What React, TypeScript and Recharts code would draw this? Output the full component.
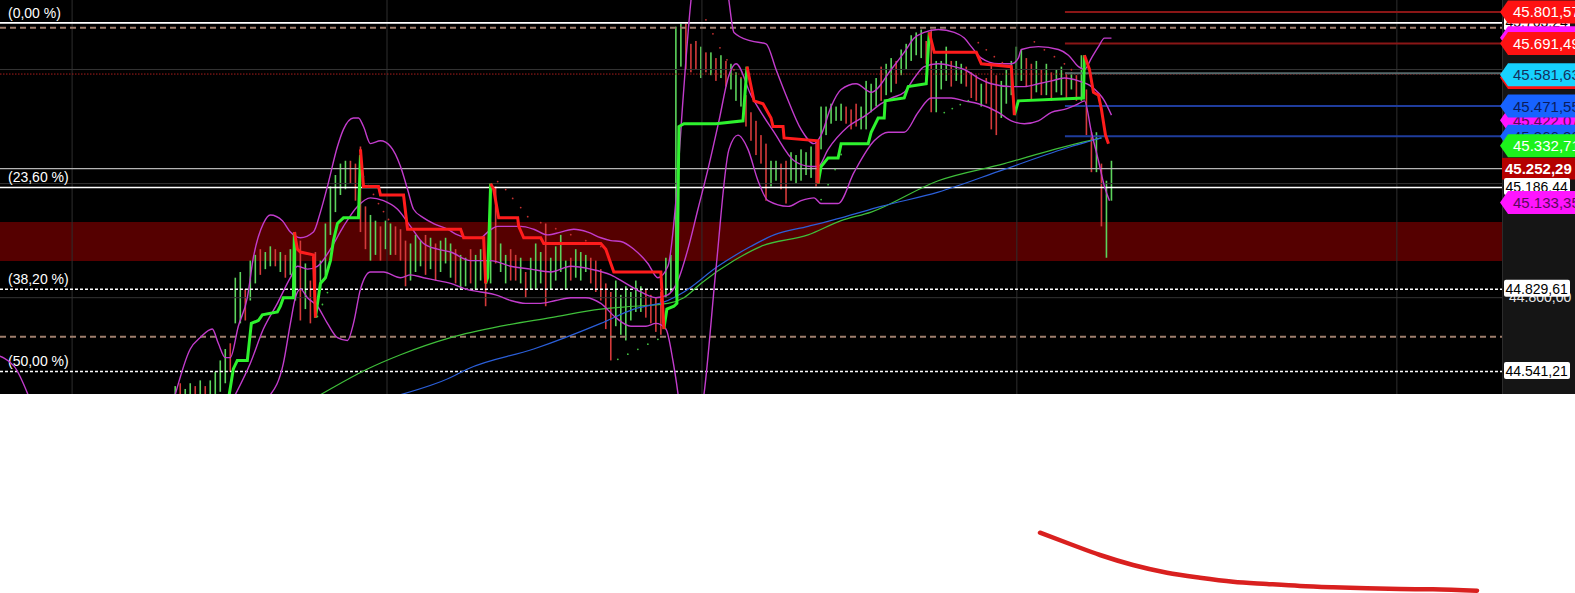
import React from 'react';
import { ComposedChart, LineChart, Line, Bar, XAxis, YAxis, ReferenceLine, ReferenceArea } from 'recharts';

// ---------- candles (bar index 35 .. 222) ----------
const FIRST_BAR = 35;
const candleHigh = [
  44.49, 44.50, 44.48, 44.50, 44.49, 44.51, 44.49, 44.51, 44.54, 44.58, 44.62, 44.64,
  44.87, 44.89, 44.83, 44.93, 44.95, 44.97, 44.96, 44.98, 44.97, 44.96, 44.95, 44.97,
  45.03, 45.00, 44.92, 44.86, 44.96, 44.93, 45.06, 45.19, 45.23, 45.27, 45.28, 45.28,
  45.27, 45.33, 45.12, 45.09, 45.07, 45.05, 45.07, 45.06, 45.05, 45.04, 45.00, 44.99,
  45.02, 45.00, 45.02, 45.01, 44.99, 45.00, 45.01, 44.99, 44.97, 44.95, 44.94, 44.97,
  44.95, 44.97, 44.93, 45.20, 45.19, 44.99, 44.95, 44.97, 44.95, 44.94, 44.89, 44.94,
  44.99, 44.96, 45.06, 44.94, 44.98, 45.02, 44.93, 44.94, 44.97, 44.96, 44.95, 44.94,
  44.93, 44.90, 44.85, 44.82, 44.86, 44.81, 44.84, 44.82, 44.86, 44.84, 44.83, 44.81,
  44.80, 44.82, 44.94, 44.95, 45.75, 45.76, 45.76, 45.69, 45.70, 45.68, 45.66, 45.66,
  45.64, 45.65, 45.63, 45.62, 45.59, 45.57, 45.51, 45.45, 45.42, 45.37, 45.34, 45.28,
  45.28, 45.27, 45.28, 45.31, 45.30, 45.32, 45.31, 45.33, 45.35, 45.47, 45.47, 45.48,
  45.47, 45.48, 45.47, 45.46, 45.48, 45.47, 45.56, 45.55, 45.57, 45.61, 45.62, 45.64,
  45.63, 45.67, 45.69, 45.72, 45.73, 45.74, 45.70, 45.74, 45.63, 45.63, 45.68, 45.63,
  45.63, 45.62, 45.61, 45.59, 45.58, 45.55, 45.57, 45.62, 45.58, 45.56, 45.60, 45.63,
  45.68, 45.67, 45.64, 45.62, 45.63, 45.60, 45.62, 45.59, 45.60, 45.61, 45.59, 45.59,
  45.58, 45.65, 45.53, 45.38, 45.38, 45.27, 45.21, 45.28,
];
const candleLow = [
  44.44, 44.44, 44.44, 44.44, 44.44, 44.44, 44.44, 44.44, 44.46, 44.47, 44.50, 44.54,
  44.71, 44.71, 44.72, 44.79, 44.85, 44.88, 44.90, 44.91, 44.91, 44.89, 44.87, 44.88,
  44.79, 44.72, 44.76, 44.71, 44.73, 44.83, 44.88, 45.02, 45.10, 45.16, 45.18, 45.20,
  45.14, 45.03, 44.97, 44.93, 44.95, 44.93, 44.97, 44.95, 44.95, 44.93, 44.84, 44.86,
  44.89, 44.91, 44.88, 44.90, 44.86, 44.89, 44.92, 44.87, 44.85, 44.83, 44.84, 44.85,
  44.83, 44.86, 44.77, 44.85, 44.92, 44.89, 44.85, 44.86, 44.86, 44.85, 44.80, 44.83,
  44.83, 44.85, 44.77, 44.83, 44.86, 44.89, 44.83, 44.86, 44.87, 44.86, 44.89, 44.85,
  44.82, 44.79, 44.69, 44.58, 44.70, 44.67, 44.65, 44.72, 44.75, 44.75, 44.73, 44.71,
  44.68, 44.67, 44.80, 44.82, 44.80, 45.61, 45.60, 45.59, 45.60, 45.57, 45.59, 45.58,
  45.56, 45.57, 45.54, 45.53, 45.49, 45.47, 45.40, 45.35, 45.30, 45.27, 45.14, 45.19,
  45.21, 45.18, 45.13, 45.21, 45.20, 45.21, 45.23, 45.22, 45.19, 45.32, 45.37, 45.41,
  45.42, 45.42, 45.41, 45.39, 45.40, 45.39, 45.39, 45.45, 45.47, 45.49, 45.51, 45.52,
  45.55, 45.58, 45.60, 45.63, 45.65, 45.64, 45.62, 45.45, 45.45, 45.53, 45.56, 45.54,
  45.56, 45.55, 45.54, 45.50, 45.49, 45.47, 45.48, 45.39, 45.37, 45.43, 45.48, 45.51,
  45.54, 45.56, 45.54, 45.49, 45.52, 45.51, 45.51, 45.49, 45.52, 45.51, 45.50, 45.53,
  45.49, 45.49, 45.37, 45.24, 45.24, 45.05, 44.94, 45.14,
];
const candleDir =
  'grggrgrggggr' + 'ggrggrggrgrg' + 'grgrrggggggr' + 'rrrggrggrrrg' +
  'ggrgrgggrggr' + 'ggrgrggrrgrg' + 'ggrggggrgggr' + 'rrrrggggggrr' +
  'rrggggrrrgrg' + 'rgrgggrrrrrg' + 'grrgggggrggg' + 'ggrrrggggrgg' +
  'rgggggrrgggr' + 'ggrrrgrrrggg' + 'ggrrgrgrggrg' + 'rgrrgrgg';

// ---------- trend (stepped) lines: [barIndex, price] ----------
const greenTrend: [number, number | null][] = [
  [45.6, 44.44], [46.6, 44.55], [47.4, 44.58], [49.4, 44.58], [50.2, 44.71], [51.6, 44.72], [52.4, 44.74],
  [55.4, 44.75], [56, 44.77], [56.6, 44.80], [58.6, 44.80], [58.8, 45.03], [60, null],
  [63, 44.73], [64, 44.85], [65, 44.87], [66, 44.93], [66.6, 45.00], [67.4, 45.06], [68.6, 45.08],
  [71.6, 45.08], [72, 45.30], [80, null],
  [97, 44.85], [97.4, 44.87], [98, 45.20], [110, null],
  [132.6, 44.69], [133.2, 44.76], [134.6, 44.77], [135.2, 44.78], [135.6, 45.40], [136.6, 45.41],
  [143, 45.41], [148.4, 45.42], [149.2, 45.61], [155, null],
  [163.4, 45.20], [164, 45.26], [165.4, 45.29], [167.4, 45.29], [168, 45.34], [173.4, 45.34], [174, 45.38],
  [175.4, 45.43], [176.6, 45.43], [176.8, 45.49], [180.6, 45.50], [181.4, 45.54], [185, 45.55], [185.6, 45.73],
  [190, null],
  [202.6, 45.44], [203.4, 45.49], [216.4, 45.50], [216.6, 45.65],
];
const redTrend: [number, number | null][] = [
  [58.8, 45.03], [59.4, 44.97], [60, 44.96], [62.6, 44.95], [63, 44.73], [66, null],
  [72, 45.32], [72.6, 45.19], [75.6, 45.19], [76, 45.16], [80.6, 45.16], [81.4, 45.04], [92, 45.04],
  [92.6, 45.01], [96.6, 45.01], [97, 44.85], [97.5, null],
  [98, 45.20], [98.6, 45.18], [99.6, 45.08], [103.4, 45.08], [103.6, 45.05], [104.6, 45.01], [108, 45.01],
  [108.6, 44.99], [120, 44.99], [121, 44.97], [122, 44.92], [122.6, 44.89], [132, 44.89], [132.6, 44.69],
  [140, null],
  [149.2, 45.61], [150.6, 45.49], [152.4, 45.48], [154, 45.43], [154.4, 45.40], [156.4, 45.40], [156.6, 45.36],
  [163.4, 45.35], [163.4, 45.20], [170, null],
  [185.6, 45.73], [186.6, 45.66], [195, 45.66], [196, 45.62], [202, 45.61], [202.6, 45.44], [210, null],
  [216.6, 45.65], [217.6, 45.60], [218.4, 45.52], [219.4, 45.51], [220, 45.46], [220.8, 45.37], [221.4, 45.34],
];

// ---------- parabolic SAR dots ----------
const sarRed: [number, number][] = [
  [72.6, 45.224], [73.6, 45.193], [74.6, 45.162], [75.6, 45.130], [76.6, 45.102], [77.6, 45.074],
  [99.4, 45.207], [101, 45.179], [102.4, 45.148], [104, 45.116], [105.4, 45.084], [108, 45.063],
  [111, 45.042], [114, 45.021], [117, 45.000], [120, 44.979],
  [141, 45.774], [142.4, 45.725], [143.8, 45.676], [145.2, 45.634], [146.6, 45.599], [148, 45.571],
  [195.4, 45.694], [197, 45.669], [198.6, 45.645], [200.2, 45.624],
  [206.6, 45.697], [208.6, 45.669], [210.6, 45.645], [212.6, 45.620], [214, 45.599],
];
const sarGreen: [number, number][] = [
  [63.4, 44.734], [64.4, 44.776], [65.4, 44.818],
  [123.4, 44.584], [125.4, 44.602], [127.4, 44.619], [129.4, 44.637], [131.4, 44.654],
  [164, 45.144], [165.4, 45.196], [166.8, 45.249], [168, 45.302],
  [188.6, 45.449], [190.2, 45.463], [191.8, 45.477], [193.4, 45.491],
];

// ---------- Bollinger bands ----------
const bandUpper: [number, number | null][] = [
  [-1, 44.60], [2.8, 44.56], [5.6, 44.46], [20, null],
  [35, 44.46], [38, 44.62], [40, 44.66], [42.4, 44.69], [43.6, 44.64], [45, 44.59], [46, 44.59], [47.6, 44.70],
  [49.4, 44.80], [50.6, 44.94], [52.6, 45.06], [54, 45.09], [56.4, 45.07], [58, 45.03], [60, 45.01],
  [62.6, 45.03], [64, 45.10], [65.4, 45.19], [67.4, 45.33], [68.6, 45.39], [70.6, 45.43], [71.6, 45.43],
  [72.6, 45.40], [74, 45.34], [76, 45.35], [78, 45.33], [80, 45.26], [81.4, 45.18], [82.6, 45.11],
  [84.6, 45.08], [86.6, 45.06], [89.4, 45.04], [91.4, 45.02], [93.4, 45.01], [96, 45.01], [97.4, 45.03],
  [99.4, 45.05], [102, 45.05], [104, 45.05], [106.6, 45.04], [109.4, 45.02], [112, 45.03], [114.6, 45.04],
  [117.4, 45.03], [120, 45.01], [122, 45.00], [124, 44.997], [126.6, 44.97], [129.4, 44.92], [131.4, 44.87],
  [133.4, 44.91], [135, 45.14], [136.4, 45.49], [138, 45.84], [140, 46.05], [142.8, 46.12], [144.4, 46.02],
  [145.6, 45.84], [146.6, 45.73], [150, 45.70], [153, 45.69], [155, 45.60], [157, 45.51], [160, 45.39],
  [162.6, 45.34], [164, 45.37], [166, 45.47], [168, 45.53], [171, 45.55], [174, 45.52], [178, 45.60],
  [180.6, 45.66], [182.6, 45.71], [184.6, 45.73], [187.4, 45.74], [190.6, 45.73], [192.6, 45.71], [194, 45.68],
  [196, 45.64], [199.4, 45.62], [202, 45.62], [203.4, 45.64], [204, 45.67], [207.4, 45.68], [211.4, 45.67],
  [213.4, 45.65], [215.4, 45.61], [216.6, 45.60], [218, 45.64], [219.4, 45.68], [220.6, 45.71], [222, 45.71],
];
const bandMiddle: [number, number][] = [
  [47, 44.46], [50, 44.57], [52.6, 44.69], [55.4, 44.78], [58, 44.87], [59.4, 44.91], [61.4, 44.90],
  [63.4, 44.91], [66, 44.97], [68.6, 45.05], [71.4, 45.12], [74, 45.15], [76.6, 45.14], [79.4, 45.11],
  [82, 45.05], [84.6, 44.99], [87.4, 44.97], [90, 44.96], [94, 44.93], [98, 44.93], [102, 44.91],
  [106, 44.90], [110, 44.89], [114, 44.91], [118, 44.90], [122, 44.88], [125, 44.85], [128, 44.82],
  [131, 44.80], [133.4, 44.81], [135.4, 44.86], [137.4, 44.97], [139.4, 45.11], [141.4, 45.25],
  [143.6, 45.42], [145.6, 45.58], [147, 45.62], [150, 45.51], [154.6, 45.38], [158.6, 45.28], [162, 45.26],
  [163.4, 45.26], [165.4, 45.32], [169.4, 45.40], [173, 45.44], [176, 45.48], [178, 45.50], [180.6, 45.52],
  [182.6, 45.57], [184.6, 45.61], [187.4, 45.62], [190.6, 45.61], [192.6, 45.60], [195.4, 45.57],
  [198, 45.55], [202, 45.54], [204.6, 45.54], [207.4, 45.55], [210, 45.56], [212.6, 45.57], [215.4, 45.56],
  [218, 45.54], [220.6, 45.49], [222, 45.44],
];
const bandLower: [number, number][] = [
  [54, 44.46], [56.6, 44.57], [58, 44.71], [59, 44.80], [60, 44.83], [61.4, 44.80], [63.4, 44.77],
  [65.4, 44.71], [67.4, 44.66], [69.4, 44.65], [70.6, 44.71], [72, 44.83], [74, 44.89], [76.6, 44.89],
  [80, 44.87], [82, 44.88], [84.6, 44.87], [87.4, 44.86], [90, 44.85], [93, 44.83], [96, 44.82],
  [99, 44.81], [102, 44.79], [105, 44.78], [108, 44.78], [111, 44.79], [114, 44.80], [117, 44.80],
  [120, 44.78], [123, 44.73], [126, 44.70], [129, 44.70], [131, 44.71], [133, 44.69], [134.4, 44.58],
  [135.6, 44.44], [137, 44.23], [139, 44.30], [140.6, 44.46], [143, 44.90], [145.6, 45.32], [147.4, 45.37],
  [149.4, 45.32], [151.4, 45.21], [153.4, 45.14], [157.4, 45.12], [160, 45.14], [162.6, 45.15], [164, 45.13],
  [167.4, 45.13], [170.6, 45.24], [174.6, 45.35], [177.4, 45.38], [180.6, 45.38], [183.4, 45.45], [186, 45.50],
  [190, 45.50], [192.6, 45.49], [195.4, 45.48], [199.4, 45.45], [202, 45.42], [204.6, 45.41], [207.4, 45.42],
  [210, 45.45], [212.6, 45.46], [215.4, 45.48], [216.6, 45.49], [218, 45.38], [219.4, 45.28], [220.6, 45.19],
  [221.6, 45.14],
];

// ---------- moving averages ----------
const maGreen: [number, number][] = [
  [64, 44.46], [66, 44.48], [73.4, 44.55], [80, 44.60], [90, 44.66], [100, 44.70], [110, 44.73], [120, 44.76],
  [126.6, 44.77], [133.4, 44.78], [136.6, 44.80], [140, 44.85], [146.6, 44.93], [152, 44.98], [161.4, 45.02],
  [168, 45.07], [174, 45.10], [187.4, 45.21], [200.6, 45.27], [210.6, 45.32], [217.4, 45.35], [220, 45.36],
];
const maBlue: [number, number][] = [
  [80, 44.46], [90, 44.52], [93.4, 44.55], [106.6, 44.62], [120, 44.71], [126.6, 44.76], [133.4, 44.79],
  [136.6, 44.82], [143.4, 44.91], [150, 44.98], [154.6, 45.02], [161.4, 45.05], [168, 45.08], [176, 45.12],
  [187.4, 45.17], [200.6, 45.25], [214, 45.33], [218, 45.35], [220, 45.36],
];

// ---------- levels ----------
const fibLevels = [45.76324, 45.18644, 44.82961, 44.54121];
const fibNames = ['(0,00 %)', '(23,60 %)', '(38,20 %)', '(50,00 %)'];
const fibDotted = [false, false, true, true];
const gridPrices = [45.6, 45.2];
const axisTickPrice = 44.8;
const timeGrid = [14.4, 77.3, 140.2, 203.1, 279];
const tanDashed = [45.746, 44.663];
const redDotted = 45.584;
const lastPriceLine = 45.25229;
const redZone = [44.929, 45.065];
const rightSegStart = 212.7;
const rightSegPrices = [45.80157, 45.69149, 45.587, 45.47155, 45.366];
const rightSegColors = ['#8a1616', '#8a1616', '#56696b', '#1f3c9c', '#1f3c9c'];

const tagPrices = [45.76324, 45.711, 45.80157, 45.69149, 45.572, 45.58163, 45.42207, 45.47155, 45.366, 45.33271, 45.25229, 45.18644, 45.13335, 44.8, 44.82961, 44.54121];
const tagTexts = ['45.763,24', '45.711,10', '45.801,57', '45.691,49', '45.572,40', '45.581,63', '45.422,07', '45.471,55', '45.366,20', '45.332,71', '45.252,29', '45.186,44', '45.133,35', '44.800,00', '44.829,61', '44.541,21'];
const tagKinds = ['box', 'arrow', 'arrow', 'arrow', 'arrow', 'arrow', 'arrow', 'arrow', 'arrow', 'arrow', 'solid', 'box', 'arrow', 'plain', 'box', 'box'];
const tagBgs = ['#ffffff', '#ff14ff', '#ff1212', '#ff1212', '#ff1212', '#16d2ff', '#ff14ff', '#1763ff', '#1763ff', '#1cf21c', '#b40000', '#ffffff', '#ff14ff', 'none', '#ffffff', '#ffffff'];
const tagFgs = ['#000000', '#5a0a5a', '#ffffff', '#ffffff', '#ffffff', '#15305e', '#5a0a5a', '#0b1d5e', '#0b1d5e', '#ffffff', '#ffffff', '#000000', '#5a0a5a', '#e8e8e8', '#000000', '#000000'];

// ---------- hand-drawn annotation stroke below the chart ----------
const strokeX = [1040, 1070, 1100, 1133, 1167, 1200, 1233, 1267, 1300, 1333, 1367, 1400, 1433, 1477];
const strokeDepth = [138.7, 150, 161, 171, 178.7, 183.7, 187.7, 190, 192, 193.3, 194.3, 195, 195.3, 196.7];

const Y_MIN = 44.4623;
const Y_MAX = 45.8436;
const X_MAX = 300;
const FONT = '"Liberation Sans", Arial, sans-serif';

const toPts = (arr: [number, number | null][]) => arr.map(([i, p]) => ({ i, p }));

const candles = candleHigh.map((h, k) => ({
  i: FIRST_BAR + k,
  range: [candleLow[k], h],
  up: candleDir[k] === 'g',
}));

function Candle(props: any) {
  const { x, y, width, height, payload } = props;
  if (x == null || y == null) return null;
  const cx = x + width / 2;
  const top = Math.min(y, y + height);
  const h = Math.max(Math.abs(height), 1);
  return <rect x={cx - 0.8} y={top} width={1.6} height={h} fill={payload.up ? '#5cd35c' : '#d43a3a'} />;
}

function FibLabel(props: any) {
  const { viewBox, txt } = props;
  if (!viewBox) return null;
  return (
    <text x={viewBox.x + 8} y={viewBox.y - 5.4} fill="#ffffff" fontSize={14} fontFamily={FONT}>
      {txt}
    </text>
  );
}

function PriceTag(props: any) {
  const { viewBox, txt, kind, bg, fg } = props;
  if (!viewBox) return null;
  const x = viewBox.x + viewBox.width;
  const y = viewBox.y;
  if (kind === 'arrow') {
    const pts = `${x - 2},${y} ${x + 6},${y - 11.5} ${x + 80},${y - 11.5} ${x + 80},${y + 11.5} ${x + 6},${y + 11.5}`;
    return (
      <g>
        <polygon points={pts} fill={bg} />
        <text x={x + 11} y={y + 5.5} fill={fg} fontSize={15} fontFamily={FONT}>{txt}</text>
      </g>
    );
  }
  if (kind === 'solid') {
    return (
      <g>
        <rect x={x} y={y - 10.8} width={80} height={21.6} fill={bg} />
        <text x={x + 3} y={y + 5.5} fill={fg} fontSize={15} fontWeight="bold" fontFamily={FONT}>{txt}</text>
      </g>
    );
  }
  if (kind === 'box') {
    return (
      <g>
        <rect x={x + 2} y={y - 9.5} width={66} height={17} rx={2} fill={bg} />
        <text x={x + 3.5} y={y + 4.5} fill={fg} fontSize={14} fontFamily={FONT}>{txt}</text>
      </g>
    );
  }
  return (
    <text x={x + 7} y={y + 4} fill={fg} fontSize={14} fontFamily={FONT}>{txt}</text>
  );
}

export default function App() {
  const strokeData = strokeX.map((x, k) => ({ x, d: strokeDepth[k] }));
  return (
    <div style={{ position: 'absolute', left: 0, top: 0, width: 1575, height: 593, background: '#ffffff', overflow: 'hidden' }}>
      <div style={{ position: 'absolute', left: 0, top: 0, width: 1575, height: 394, background: '#000000' }} />
      <div style={{ position: 'absolute', left: 1502, top: 0, width: 73, height: 394, background: '#151515', borderLeft: '1px solid #2c2c2c', boxSizing: 'border-box' }} />
      <div style={{ position: 'absolute', left: 0, top: 0 }}>
        <ComposedChart width={1575} height={394} data={candles} margin={{ top: 0, right: 73, bottom: 0, left: 0 }}>
          <XAxis type="number" dataKey="i" domain={[0, X_MAX]} hide allowDataOverflow />
          <YAxis type="number" domain={[Y_MIN, Y_MAX]} hide allowDataOverflow />

          <ReferenceArea y1={redZone[0]} y2={redZone[1]} fill="#550000" fillOpacity={1} stroke="none" ifOverflow="visible" />

          {timeGrid.map((t) => (
            <ReferenceLine key={'t' + t} x={t} stroke="#2e2e2e" strokeWidth={1} />
          ))}
          {gridPrices.map((p) => (
            <ReferenceLine key={'g' + p} y={p} stroke="#343434" strokeWidth={1} />
          ))}
          <ReferenceLine y={axisTickPrice} stroke="#343434" strokeWidth={1} />
          {tanDashed.map((p) => (
            <ReferenceLine key={'d' + p} y={p} stroke="#9e7e6c" strokeWidth={2} strokeDasharray="6 4" />
          ))}
          <ReferenceLine y={redDotted} stroke="#a81c1c" strokeWidth={1} strokeDasharray="1.5 1.5" />
          <ReferenceLine y={lastPriceLine} stroke="#b4b4b4" strokeWidth={1.2} />
          {rightSegPrices.map((p, k) => (
            <ReferenceLine
              key={'s' + p}
              segment={[{ x: rightSegStart, y: p }, { x: X_MAX, y: p }]}
              stroke={rightSegColors[k]}
              strokeWidth={2}
            />
          ))}
          {fibLevels.map((p, k) => (
            <ReferenceLine
              key={'f' + p}
              y={p}
              stroke="#ffffff"
              strokeWidth={1.6}
              strokeDasharray={fibDotted[k] ? '3 2' : undefined}
              label={<FibLabel txt={fibNames[k]} />}
            />
          ))}

          <Line data={toPts(maGreen)} dataKey="p" type="monotone" stroke="#3fbf3a" strokeWidth={1.2} dot={false} isAnimationActive={false} />
          <Line data={toPts(maBlue)} dataKey="p" type="monotone" stroke="#2b5fd9" strokeWidth={1.2} dot={false} isAnimationActive={false} />

          <Bar dataKey="range" barSize={2} shape={<Candle />} isAnimationActive={false} />

          <Line data={toPts(sarRed)} dataKey="p" stroke="none" dot={{ r: 0.9, fill: '#c83030', stroke: 'none' }} isAnimationActive={false} />
          <Line data={toPts(sarGreen)} dataKey="p" stroke="none" dot={{ r: 0.9, fill: '#40c040', stroke: 'none' }} isAnimationActive={false} />

          <Line data={toPts(bandUpper)} dataKey="p" type="monotone" stroke="#c23ccc" strokeWidth={1.4} dot={false} connectNulls={false} isAnimationActive={false} />
          <Line data={toPts(bandMiddle)} dataKey="p" type="monotone" stroke="#c23ccc" strokeWidth={1.4} dot={false} isAnimationActive={false} />
          <Line data={toPts(bandLower)} dataKey="p" type="monotone" stroke="#c23ccc" strokeWidth={1.4} dot={false} isAnimationActive={false} />

          <Line data={toPts(greenTrend)} dataKey="p" type="linear" stroke="#2ef22e" strokeWidth={3} dot={false} connectNulls={false} isAnimationActive={false} />
          <Line data={toPts(redTrend)} dataKey="p" type="linear" stroke="#ff1c1c" strokeWidth={3} dot={false} connectNulls={false} isAnimationActive={false} />

          {tagPrices.map((p, k) => (
            <ReferenceLine
              key={'tag' + k}
              y={p}
              stroke="none"
              label={<PriceTag txt={tagTexts[k]} kind={tagKinds[k]} bg={tagBgs[k]} fg={tagFgs[k]} />}
            />
          ))}
        </ComposedChart>
      </div>
      <div style={{ position: 'absolute', left: 0, top: 394 }}>
        <LineChart width={1575} height={199} data={strokeData} margin={{ top: 0, right: 0, bottom: 0, left: 0 }}>
          <XAxis type="number" dataKey="x" domain={[0, 1575]} hide />
          <YAxis type="number" domain={[0, 199]} reversed hide />
          <Line dataKey="d" type="monotone" stroke="#d9201f" strokeWidth={4.5} strokeLinecap="round" dot={false} isAnimationActive={false} />
        </LineChart>
      </div>
    </div>
  );
}
